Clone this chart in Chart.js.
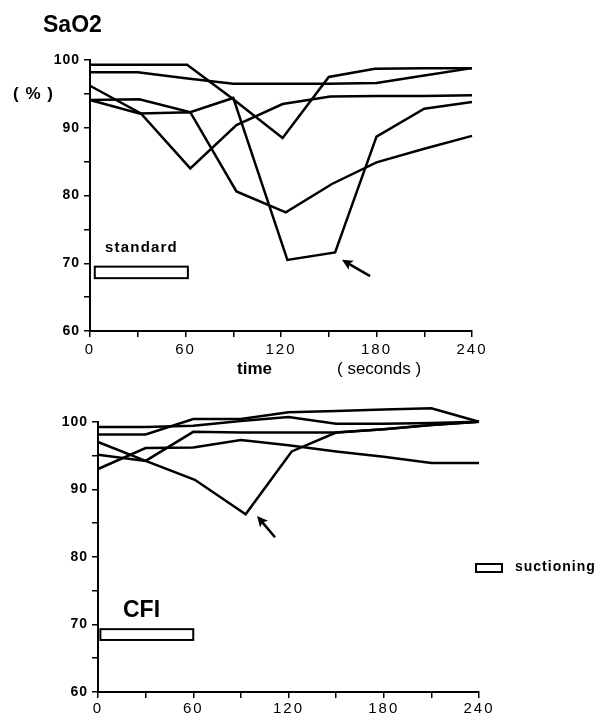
<!DOCTYPE html>
<html><head><meta charset="utf-8">
<script src="https://cdn.jsdelivr.net/npm/chart.js@4.4.1/dist/chart.umd.min.js"></script>
<style>
html,body{margin:0;padding:0;background:#fff;}
#wrap{position:relative;width:606px;height:718px;overflow:hidden;font-family:"Liberation Sans",Arial,Helvetica,sans-serif;color:#000;background:#fff;}
canvas{position:absolute;left:0;}
.t{position:absolute;white-space:nowrap;line-height:1;color:#000;}
</style></head><body>
<div id="wrap">
<canvas id="c1" width="606" height="390" style="top:0px"></canvas>
<canvas id="c2" width="606" height="328" style="top:390px"></canvas>
<div class="t" style="left:43px;top:12.5px;font-size:23px;font-weight:bold;">SaO2</div>
<div class="t" style="left:13px;top:85px;font-size:17px;font-weight:bold;letter-spacing:1px;">( % )</div>
<div class="t" style="left:105px;top:239px;font-size:15px;font-weight:bold;letter-spacing:1.2px;">standard</div>
<div class="t" style="left:237px;top:359.5px;font-size:17px;font-weight:bold;">time</div>
<div class="t" style="left:337px;top:359.5px;font-size:17px;">( seconds )</div>
<div class="t" style="left:123px;top:597.5px;font-size:23px;font-weight:bold;">CFI</div>
<div style="position:absolute;left:475px;top:563px;width:24px;height:6px;border:2px solid #000;"></div>
<div class="t" style="left:515px;top:559px;font-size:14px;font-weight:bold;letter-spacing:1px;">suctioning</div>
</div>
<script>
// ---------- data ----------
const timeTicks = [0, 60, 120, 180, 240];
const valueTicks = [60, 70, 80, 90, 100];

// Standard suctioning, SaO2 (%)
const stdTimesA = [0, 30, 61, 89, 121, 150, 179, 210, 240];
const stdA      = [99.3, 99.3, 99.3, 94.4, 88.5, 97.5, 98.7, 98.8, 98.8];
const stdTimesB = [0, 30, 60, 90, 120, 150, 180, 210, 240];
const stdB      = [98.2, 98.2, 97.3, 96.5, 96.5, 96.5, 96.6, 97.7, 98.8];
const stdTimesC = [0, 32, 63, 92, 121, 151, 180, 210, 240];
const stdC      = [96.2, 92.1, 84.0, 90.4, 93.5, 94.6, 94.7, 94.7, 94.8];
const stdTimesD = [0, 31, 63, 90, 124, 154, 180, 210, 240];
const stdD      = [94.1, 94.2, 92.3, 94.4, 70.5, 71.6, 88.7, 92.8, 93.8];
const stdTimesE = [0, 31, 63, 92, 123, 152, 180, 210, 240];
const stdE      = [94.1, 92.1, 92.3, 80.6, 77.5, 81.7, 84.9, 86.9, 88.8];

// CFI, SaO2 (%)
const cfiTimes  = [0, 30, 60, 90, 120, 150, 180, 210, 240];
const cfiP      = [98.1, 98.1, 100.4, 100.4, 101.4, 101.6, 101.8, 102.0, 100.0];
const cfiQ      = [99.2, 99.2, 99.4, 100.1, 100.7, 99.7, 99.7, 99.8, 100.0];
const cfiR      = [95.1, 94.2, 98.5, 98.4, 98.4, 98.4, 98.9, 99.5, 100.0];
const cfiTimesS = [0, 30, 61, 93, 122, 150, 180, 210, 240];
const cfiS      = [97.0, 94.2, 91.4, 86.3, 95.6, 98.4, 98.9, 99.5, 100.0];
const cfiT      = [93.0, 96.1, 96.2, 97.3, 96.5, 95.6, 94.8, 93.9, 93.9];

// suctioning period bars [t start, t end, low, high] and arrows [tail t, tail v, tip t, tip v]
const stdBar   = [3, 61.5, 67.8, 69.5];
const cfiBar   = [1.5, 60, 67.7, 69.3];
const stdArrow = [176, 68.1, 158.3, 70.5];
const cfiArrow = [111.5, 82.9, 100.2, 86.05];

// ---------- drawing ----------
const FONT = '"Liberation Sans", Arial, Helvetica, sans-serif';
Chart.defaults.font.family = FONT;
Chart.defaults.color = '#000';

function pts(ts, vs){ return ts.map((t,i)=>({x:t, y:vs[i]})); }
function ds(ts, vs){
  return {data: pts(ts, vs), borderColor:'#000', borderWidth:2.5, pointRadius:0,
          tension:0, fill:false, clip:false};
}

function overlay(bar, arrow){
  return {id:'overlay', afterDatasetsDraw(chart){
    const ctx = chart.ctx, x = chart.scales.x, y = chart.scales.y;
    ctx.save();
    const x0 = x.getPixelForValue(bar[0]), x1 = x.getPixelForValue(bar[1]);
    const y0 = y.getPixelForValue(bar[3]), y1 = y.getPixelForValue(bar[2]);
    ctx.fillStyle = '#fff'; ctx.fillRect(x0, y0, x1-x0, y1-y0);
    ctx.strokeStyle = '#000'; ctx.lineWidth = 2;
    ctx.strokeRect(x0, y0, x1-x0, y1-y0);
    const sx = x.getPixelForValue(arrow[0]), sy = y.getPixelForValue(arrow[1]);
    const tx = x.getPixelForValue(arrow[2]), ty = y.getPixelForValue(arrow[3]);
    const a = Math.atan2(ty-sy, tx-sx), hl = 12, hw = 0.45;
    ctx.lineWidth = 2.6; ctx.lineCap = 'butt';
    ctx.beginPath(); ctx.moveTo(sx, sy); ctx.lineTo(tx - Math.cos(a)*5, ty - Math.sin(a)*5); ctx.stroke();
    ctx.beginPath(); ctx.moveTo(tx, ty);
    ctx.lineTo(tx - hl*Math.cos(a-hw), ty - hl*Math.sin(a-hw));
    ctx.lineTo(tx - hl*0.7*Math.cos(a), ty - hl*0.7*Math.sin(a));
    ctx.lineTo(tx - hl*Math.cos(a+hw), ty - hl*Math.sin(a+hw));
    ctx.closePath(); ctx.fillStyle = '#000'; ctx.fill();
    ctx.restore();
  }};
}

const spacing = {id:'spacing', beforeDraw(chart){
  [['x','2px'],['y','1px']].forEach(([k, sp])=>{
    const s = chart.scales[k];
    if (s && !s._spWrapped){
      const orig = s.drawLabels;
      s.drawLabels = function(area){ const c = this.ctx; c.save(); c.letterSpacing = sp; orig.call(this, area); c.restore(); };
      s._spWrapped = true;
    }
  });
}};

function makeChart(id, datasets, L, bar, arrow){
  return new Chart(document.getElementById(id), {
    type: 'line',
    data: { datasets },
    options: {
      responsive:false, animation:false, devicePixelRatio:1,
      layout:{ padding:{ left:0, right:L.right, top:L.top, bottom:0 } },
      plugins:{ legend:{display:false}, tooltip:{enabled:false} },
      scales:{
        x:{ type:'linear', min:0, max:240,
            afterFit(s){ s.height = L.xh; },
            ticks:{ stepSize:30, autoSkip:false, maxRotation:0, padding:L.xpad,
                    callback:(v)=> timeTicks.includes(v) ? String(v) : '',
                    font:{ size:15, family:FONT }, color:'#000' },
            grid:{ display:true, drawOnChartArea:false, drawTicks:true, tickLength:6, color:'#000', lineWidth:1.5 },
            border:{ display:true, color:'#000', width:2 } },
        y:{ min:60, max:100,
            afterFit(s){ s.width = L.yw; },
            ticks:{ stepSize:5, padding:4,
                    callback:(v)=> valueTicks.includes(v) ? String(v) : '',
                    font:{ size:14, weight:'bold', family:FONT }, color:'#000' },
            grid:{ display:true, drawOnChartArea:false, drawTicks:true, tickLength:6, color:'#000', lineWidth:1.5 },
            border:{ display:true, color:'#000', width:2 } }
      }
    },
    plugins:[ overlay(bar, arrow), spacing ]
  });
}

makeChart('c1', [
  ds(stdTimesA, stdA), ds(stdTimesB, stdB), ds(stdTimesC, stdC), ds(stdTimesD, stdD), ds(stdTimesE, stdE)
], {right:134, top:60, xh:59, yw:90, xpad:4}, stdBar, stdArrow);

makeChart('c2', [
  ds(cfiTimes, cfiP), ds(cfiTimes, cfiQ), ds(cfiTimes, cfiR), ds(cfiTimesS, cfiS), ds(cfiTimes, cfiT)
], {right:127, top:31.7, xh:26, yw:98, xpad:2}, cfiBar, cfiArrow);
</script>
</body></html>
